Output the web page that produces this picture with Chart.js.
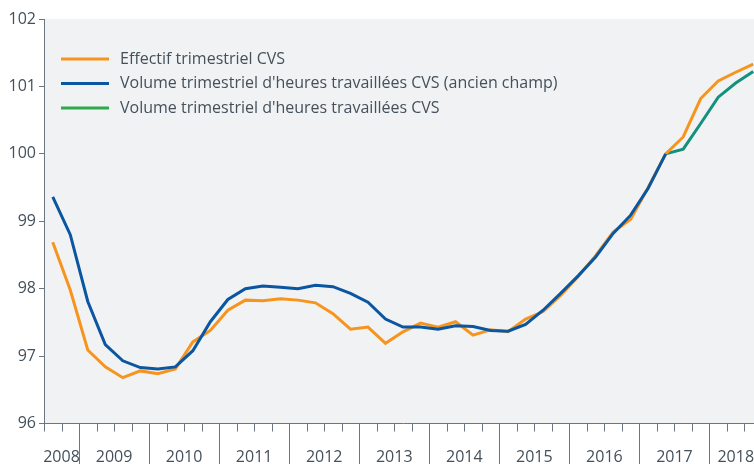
<!DOCTYPE html>
<html>
<head>
<meta charset="utf-8">
<script src="https://cdn.jsdelivr.net/npm/chart.js@4/dist/chart.umd.min.js"></script>
<style>
  html, body { margin: 0; padding: 0; background: #fff; overflow: hidden; }
  #wrap { width: 764px; height: 464px; }
</style>
</head>
<body>
<div id="wrap"><canvas id="my_chart"></canvas></div>
<script>
// quarters 2008T3 .. 2018T3
const quarters = [
  '2008T3','2008T4',
  '2009T1','2009T2','2009T3','2009T4',
  '2010T1','2010T2','2010T3','2010T4',
  '2011T1','2011T2','2011T3','2011T4',
  '2012T1','2012T2','2012T3','2012T4',
  '2013T1','2013T2','2013T3','2013T4',
  '2014T1','2014T2','2014T3','2014T4',
  '2015T1','2015T2','2015T3','2015T4',
  '2016T1','2016T2','2016T3','2016T4',
  '2017T1','2017T2','2017T3','2017T4',
  '2018T1','2018T2','2018T3'
];

const years = ['2008','2009','2010','2011','2012','2013','2014','2015','2016','2017','2018'];

const effectif = [
  98.69, 97.98,
  97.09, 96.84, 96.68, 96.78,
  96.74, 96.81, 97.21, 97.38,
  97.68, 97.83, 97.82, 97.85,
  97.83, 97.79, 97.63, 97.40,
  97.43, 97.19, 97.36, 97.49,
  97.43, 97.51, 97.31, 97.39,
  97.36, 97.55, 97.66, 97.90,
  98.18, 98.49, 98.84, 99.03,
  99.50, 100.00, 100.25, 100.82,
  101.08, 101.21, 101.33
];

const volume_ancien = [
  99.36, 98.80,
  97.81, 97.17, 96.93, 96.83,
  96.81, 96.84, 97.08, 97.51,
  97.84, 98.00, 98.04, 98.02,
  98.00, 98.05, 98.03, 97.93,
  97.80, 97.55, 97.43, 97.43,
  97.40, 97.45, 97.44, 97.38,
  97.37, 97.47, 97.68, 97.93,
  98.19, 98.47, 98.82, 99.09,
  99.49, 100.00, null, null,
  null, null, null
];

const volume = [
  null, null,
  null, null, null, null,
  null, null, null, null,
  null, null, null, null,
  null, null, null, null,
  null, null, null, null,
  null, null, null, null,
  null, null, null, null,
  null, null, null, null,
  null, 100.00, 100.07, 100.45,
  100.84, 101.05, 101.22
];

const series_labels = [
  'Effectif trimestriel CVS',
  "Volume trimestriel d'heures travaillées CVS (ancien champ)",
  "Volume trimestriel d'heures travaillées CVS"
];

const y_min = 96;
const y_max = 102;

const FONT = '"Open Sans", "Noto Sans", sans-serif';
const AXIS_COLOR = '#6b7680';
const TEXT_COLOR = '#44505b';
const legend_colors = ['#f7941d', '#0a56a0', '#2eaa4a'];

const decor = {
  id: 'decor',
  beforeDraw(chart) {
    const a = chart.chartArea;
    const ctx = chart.ctx;
    ctx.save();
    ctx.fillStyle = '#f1f2f4';
    ctx.fillRect(a.left, a.top, a.right - a.left, a.bottom - a.top);
    ctx.restore();
  },
  afterDraw(chart) {
    const ctx = chart.ctx;
    const a = chart.chartArea;
    const xs = chart.scales.x;
    const n = quarters.length;
    const half = (xs.getPixelForValue(1) - xs.getPixelForValue(0)) / 2;
    const bound = i => xs.getPixelForValue(i) - half; // left edge of category i

    ctx.save();
    ctx.strokeStyle = AXIS_COLOR;
    ctx.lineWidth = 1;
    for (let i = 0; i <= n; i++) {
      const x = Math.round(bound(i)) + 0.5;
      const q = i < n ? quarters[i] : '';
      const yearStart = q.endsWith('T1');
      ctx.beginPath();
      ctx.moveTo(x, a.bottom);
      ctx.lineTo(x, yearStart ? chart.height : a.bottom + 8);
      ctx.stroke();
    }

    // year labels centred on their quarters
    ctx.fillStyle = TEXT_COLOR;
    ctx.font = '16px ' + FONT;
    ctx.textAlign = 'center';
    ctx.textBaseline = 'middle';
    years.forEach(y => {
      const idx = quarters.map((q, i) => q.startsWith(y) ? i : -1).filter(i => i >= 0);
      if (!idx.length) return;
      const x0 = bound(idx[0]);
      const x1 = bound(idx[idx.length - 1] + 1);
      ctx.fillText(y, (x0 + x1) / 2, 457);
    });

    // legend inside the plot
    ctx.textAlign = 'left';
    ctx.font = '16px ' + FONT;
    chart.data.datasets.forEach((ds, k) => {
      const y = a.top + 40 + k * 24.5;
      ctx.strokeStyle = legend_colors[k];
      ctx.lineWidth = 3;
      ctx.beginPath();
      ctx.moveTo(a.left + 17, y);
      ctx.lineTo(a.left + 65, y);
      ctx.stroke();
      ctx.fillStyle = TEXT_COLOR;
      ctx.fillText(ds.label, a.left + 76, y);
    });
    ctx.restore();
  }
};

function create_chart() {
  const data = {
    labels: quarters,
    datasets: [{
      label: series_labels[0],
      data: effectif,
      borderColor: '#f7941d',
      borderWidth: 3,
      order: 1
    }, {
      label: series_labels[1],
      data: volume_ancien,
      borderColor: '#0a56a0',
      borderWidth: 3,
      order: 0
    }, {
      label: series_labels[2],
      data: volume,
      borderColor: '#13917d',
      borderWidth: 3,
      order: 2
    }]
  };

  const config = {
    type: 'line',
    data,
    options: {
      responsive: true,
      maintainAspectRatio: false,
      animation: false,
      layout: { padding: { top: 19, right: 2, bottom: 0, left: 0 } },
      elements: {
        point: { radius: 0 },
        line: { tension: 0, borderJoinStyle: 'miter' }
      },
      plugins: {
        legend: { display: false },
        tooltip: { enabled: false }
      },
      scales: {
        x: {
          type: 'category',
          offset: true,
          grid: { display: false },
          border: { display: true, color: AXIS_COLOR, width: 1 },
          ticks: { display: false },
          afterFit(scale) { scale.height = 40.5; }
        },
        y: {
          min: y_min,
          max: y_max,
          grid: { drawOnChartArea: false, tickLength: 5, tickColor: AXIS_COLOR },
          border: { display: true, color: AXIS_COLOR, width: 1 },
          ticks: {
            stepSize: 1,
            padding: 3,
            color: TEXT_COLOR,
            font: { family: FONT, size: 16 }
          },
          afterFit(scale) { scale.width = 44; }
        }
      }
    },
    plugins: [decor]
  };

  new Chart(document.getElementById('my_chart').getContext('2d'), config);
}

create_chart();
</script>
</body>
</html>
